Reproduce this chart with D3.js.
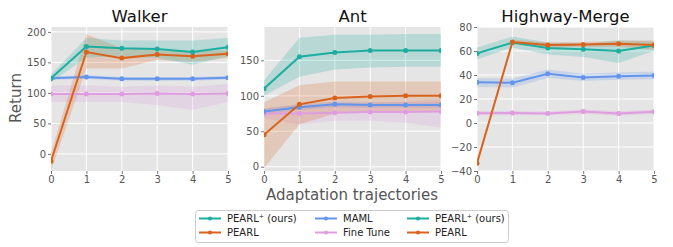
<!DOCTYPE html>
<html>
<head>
<meta charset="utf-8">
<script src="https://cdn.jsdelivr.net/npm/d3@7"></script>
<style>
  body { margin: 0; background: #fff; }
  text { font-family: "DejaVu Sans", sans-serif; }
</style>
</head>
<body>
<svg id="chart" width="673" height="247"></svg>
<script>
// adaptation steps on the x axis
var steps = [0, 1, 2, 3, 4, 5];

// Walker
var walkerPearlPlus = [124, 176, 173, 172, 167, 175];
var walkerPearlPlusLo = [117, 158, 160, 157, 146, 160];
var walkerPearlPlusHi = [130, 190, 186, 186, 186, 190];
var walkerPearl = [-12, 167, 157, 163, 160, 164];
var walkerPearlLo = [-28, 140, 140, 154, 151, 157];
var walkerPearlHi = [2, 196, 173, 170, 168, 170];
var walkerMaml = [124, 126, 123, 123, 123, 125];
var walkerMamlLo = [121, 123, 120, 120, 120, 122];
var walkerMamlHi = [127, 129, 126, 126, 126, 128];
var walkerFine = [98, 98, 98, 99, 98, 99];
var walkerFineLo = [85, 85, 85, 80, 72, 85];
var walkerFineHi = [112, 112, 110, 112, 110, 115];

// Ant
var antPearlPlus = [110, 155, 161, 164, 164, 164];
var antPearlPlusLo = [100, 127, 137, 140, 141, 141];
var antPearlPlusHi = [122, 182, 186, 186, 187, 187];
var antPearl = [45, 88, 97, 99, 100, 100];
var antPearlLo = [-2, 60, 75, 78, 78, 78];
var antPearlHi = [91, 115, 120, 120, 120, 120];
var antMaml = [78, 84, 88, 87, 87, 87];
var antMamlLo = [74, 80, 84, 83, 83, 83];
var antMamlHi = [82, 88, 92, 91, 91, 91];
var antFine = [75, 75, 76, 77, 77, 78];
var antFineLo = [68, 60, 65, 65, 62, 55];
var antFineHi = [82, 88, 90, 90, 92, 95];

// Highway-Merge
var hwPearlPlus = [58, 67, 62.5, 61.5, 60, 64.5];
var hwPearlPlusLo = [53, 63, 57, 55, 50, 60];
var hwPearlPlusHi = [63, 72, 67, 66, 69, 68];
var hwPearl = [-33.5, 67.5, 65, 65.5, 66, 65];
var hwPearlLo = [-36, 65.5, 63, 63.5, 63.5, 61];
var hwPearlHi = [-31, 69.5, 67, 67.5, 68.5, 69];
var hwMaml = [34, 33.5, 41, 38, 39, 39.5];
var hwMamlLo = [30, 29.5, 37.5, 35, 36, 36.5];
var hwMamlHi = [37.5, 37, 44.5, 41, 42, 43];
var hwFine = [8.2, 8.3, 8, 9.5, 8, 9.3];
var hwFineLo = [6.5, 6.5, 6.5, 7.5, 6, 7.5];
var hwFineHi = [10, 10, 9.5, 11.5, 10, 11];

var panelTitles = ["Walker", "Ant", "Highway-Merge"];
var walkerTicks = [0, 50, 100, 150, 200];
var antTicks = [0, 50, 100, 150];
var hwTicks = [-40, -20, 0, 20, 40, 60, 80];

var legendLabels = ["PEARL\u207A (ours)", "PEARL", "MAML", "Fine Tune", "PEARL\u207A (ours)", "PEARL"];

var colors = {
  pearlPlus: "#1cae9e",
  pearl: "#d9631c",
  maml: "#6495ed",
  fine: "#df9de0"
};

function series(key, mean, lo, hi) {
  return { key: key, mean: mean, lo: lo, hi: hi };
}

var panels = [
  {
    title: panelTitles[0], left: 51, right: 228, domain: [-28, 208], ticks: walkerTicks,
    series: [
      series("fine", walkerFine, walkerFineLo, walkerFineHi),
      series("maml", walkerMaml, walkerMamlLo, walkerMamlHi),
      series("pearl", walkerPearl, walkerPearlLo, walkerPearlHi),
      series("pearlPlus", walkerPearlPlus, walkerPearlPlusLo, walkerPearlPlusHi)
    ]
  },
  {
    title: panelTitles[1], left: 264, right: 441, domain: [-6, 197], ticks: antTicks,
    series: [
      series("fine", antFine, antFineLo, antFineHi),
      series("maml", antMaml, antMamlLo, antMamlHi),
      series("pearl", antPearl, antPearlLo, antPearlHi),
      series("pearlPlus", antPearlPlus, antPearlPlusLo, antPearlPlusHi)
    ]
  },
  {
    title: panelTitles[2], left: 477, right: 654, domain: [-40, 80], ticks: hwTicks,
    series: [
      series("fine", hwFine, hwFineLo, hwFineHi),
      series("maml", hwMaml, hwMamlLo, hwMamlHi),
      series("pearlPlus", hwPearlPlus, hwPearlPlusLo, hwPearlPlusHi),
      series("pearl", hwPearl, hwPearlLo, hwPearlHi)
    ]
  }
];

var plotTop = 27, plotBottom = 171;
var svg = d3.select("#chart");

panels.forEach(function(p) {
  var x = d3.scaleLinear().domain([0, 5]).range([p.left, p.right]);
  var y = d3.scaleLinear().domain(p.domain).range([plotBottom, plotTop]);

  var g = svg.append("g");

  g.append("rect")
    .attr("x", p.left).attr("y", plotTop)
    .attr("width", p.right - p.left).attr("height", plotBottom - plotTop)
    .attr("fill", "#e5e5e5");

  // grid
  g.append("g").selectAll("line").data(steps).enter().append("line")
    .attr("x1", function(d) { return x(d); }).attr("x2", function(d) { return x(d); })
    .attr("y1", plotTop).attr("y2", plotBottom)
    .attr("stroke", "#fff").attr("stroke-width", 1);
  g.append("g").selectAll("line").data(p.ticks).enter().append("line")
    .attr("x1", p.left).attr("x2", p.right)
    .attr("y1", function(d) { return y(d); }).attr("y2", function(d) { return y(d); })
    .attr("stroke", "#fff").attr("stroke-width", 1);

  // axes
  var xAxis = g.append("g")
    .attr("transform", "translate(0," + plotBottom + ")")
    .call(d3.axisBottom(x).tickValues(steps).tickSize(3).tickPadding(2)
      .tickFormat(d3.format("d")));
  var yAxis = g.append("g")
    .attr("transform", "translate(" + p.left + ",0)")
    .call(d3.axisLeft(y).tickValues(p.ticks).tickSize(3).tickPadding(2)
      .tickFormat(function(d) { return d < 0 ? "\u2212" + Math.abs(d) : d; }));
  [xAxis, yAxis].forEach(function(a) {
    a.select(".domain").remove();
    a.selectAll("line").attr("stroke", "#777");
    a.selectAll("text").attr("fill", "#555").style("font-size", "10px")
      .style("font-family", "DejaVu Sans");
  });

  var clipId = "clip" + p.left;
  svg.append("clipPath").attr("id", clipId).append("rect")
    .attr("x", p.left).attr("y", plotTop)
    .attr("width", p.right - p.left).attr("height", plotBottom - plotTop);

  var plot = g.append("g").attr("clip-path", "url(#" + clipId + ")");

  var area = d3.area()
    .x(function(d, i) { return x(steps[i]); })
    .y0(function(d) { return y(d[0]); })
    .y1(function(d) { return y(d[1]); });
  var line = d3.line()
    .x(function(d, i) { return x(steps[i]); })
    .y(function(d) { return y(d); });

  p.series.forEach(function(s) {
    var band = s.lo.map(function(v, i) { return [v, s.hi[i]]; });
    plot.append("path").datum(band)
      .attr("d", area)
      .attr("fill", colors[s.key]).attr("fill-opacity", 0.22);
  });
  p.series.forEach(function(s) {
    plot.append("path").datum(s.mean)
      .attr("d", line)
      .attr("fill", "none").attr("stroke", colors[s.key]).attr("stroke-width", 2);
    plot.append("g").selectAll("circle").data(s.mean).enter().append("circle")
      .attr("cx", function(d, i) { return x(steps[i]); })
      .attr("cy", function(d) { return y(d); })
      .attr("r", 2.5)
      .attr("fill", colors[s.key]);
  });

  g.append("text")
    .attr("x", (p.left + p.right) / 2).attr("y", 22)
    .attr("text-anchor", "middle")
    .style("font-size", "16.5px")
    .attr("fill", "#111")
    .text(p.title);
});

svg.append("text")
  .attr("transform", "translate(21,98) rotate(-90)")
  .attr("text-anchor", "middle")
  .style("font-size", "15px")
  .attr("fill", "#555")
  .text("Return");

svg.append("text")
  .attr("x", 352).attr("y", 200)
  .attr("text-anchor", "middle")
  .style("font-size", "15px")
  .attr("fill", "#555")
  .text("Adaptation trajectories");

// legend
var legendKeys = ["pearlPlus", "pearl", "maml", "fine", "pearlPlus", "pearl"];
var legend = svg.append("g");
legend.append("rect")
  .attr("x", 195.5).attr("y", 210.5).attr("width", 313).attr("height", 32)
  .attr("rx", 3)
  .attr("fill", "#fff").attr("stroke", "#ccc");

var colX = [199, 315, 407];
var rowY = [218.5, 232.5];
legendLabels.forEach(function(lbl, i) {
  var cx = colX[Math.floor(i / 2)], cy = rowY[i % 2];
  legend.append("line")
    .attr("x1", cx).attr("x2", cx + 22).attr("y1", cy).attr("y2", cy)
    .attr("stroke", colors[legendKeys[i]]).attr("stroke-width", 2);
  legend.append("circle")
    .attr("cx", cx + 11).attr("cy", cy).attr("r", 2)
    .attr("fill", colors[legendKeys[i]]);
  legend.append("text")
    .attr("x", cx + 28).attr("y", cy + 3.5)
    .style("font-size", "10px")
    .attr("fill", "#222")
    .text(lbl);
});
</script>
</body>
</html>
